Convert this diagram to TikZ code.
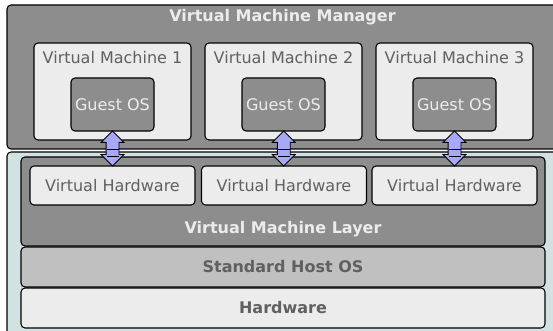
\documentclass[tikz,border=0pt]{standalone}
\usepackage{fontspec}
\setmainfont{DejaVu Sans}
\usetikzlibrary{positioning,calc,shapes.arrows}
\definecolor{mgrgray}{RGB}{141,141,141}
\definecolor{paper}{RGB}{236,236,236}
\definecolor{hostgray}{RGB}{192,192,192}
\definecolor{tealbg}{RGB}{210,225,225}
\definecolor{txtgray}{RGB}{96,96,96}
\definecolor{arrowblue}{RGB}{168,168,248}
\def\pxu{0.75pt}

\begin{document}
\begin{tikzpicture}[x=0.75pt,y=-0.75pt,
    every node/.style={font=\fontsize{12}{14}\selectfont},
    box/.style={draw,rounded corners=3pt,inner sep=0pt,line width=0.8pt},
    darkbox/.style={box,fill=mgrgray},
    lightbox/.style={box,fill=paper},
    layerbox/.style={box,minimum width=524*\pxu,minimum height=40*\pxu},
    vmbox/.style={lightbox,minimum width=157*\pxu,minimum height=97*\pxu},
    guestbox/.style={darkbox,minimum width=83*\pxu,minimum height=53*\pxu,text=paper},
    vhbox/.style={lightbox,minimum width=165*\pxu,minimum height=39*\pxu,text=txtgray},
    boldlight/.style={font=\fontsize{12}{14}\selectfont\bfseries,text=paper},
    bolddark/.style={font=\fontsize{12}{14}\selectfont\bfseries,text=txtgray},
    link/.style={double arrow,draw,fill=arrowblue,line width=0.6pt,rotate=90,inner sep=4.5pt,
      minimum width=16.5pt,minimum height=26.25pt,double arrow head extend=3.75pt,
      double arrow tip angle=90}]
    \useasboundingbox (0,0) rectangle (553,331);
    \clip (0,0) rectangle (553,331);
    % upper part: the manager and its machines
    \node[darkbox,minimum width=551*\pxu,minimum height=144*\pxu] (mgr) at (282.5,77) {};
    \node[boldlight] (mgrlabel) at ($(mgr.north)+(0,13)$) {Virtual Machine Manager};
    % lower part: the layers
    \node[box,fill=tealbg,minimum width=551*\pxu,minimum height=193*\pxu] (host) at (282.5,248.5) {};
    \node[darkbox,minimum width=524*\pxu,minimum height=89*\pxu] (vml) at (283,201.5) {};
    \node[boldlight] (vmllabel) at (283,229) {Virtual Machine Layer};
    \node[layerbox,fill=hostgray,bolddark] (hostos) at (283,267) {Standard Host OS};
    \node[layerbox,fill=paper,bolddark] (hw) at (283,308) {Hardware};
    \foreach \i/\x/\hx in {1/112.5/112.5,2/283.5/284,3/454.5/454.5}{
      \node[vmbox] (vm\i) at (\x,91.5) {};
      \node[text=txtgray] (vmlabel\i) at ($(vm\i.north)+(0,15)$) {Virtual Machine \i};
      \node[guestbox] (g\i) at (\x,104.5) {Guest OS};
      \node[vhbox] (vh\i) at (\hx,185.5) {Virtual Hardware};
      \node[link] (a\i) at ($(g\i.south)!0.5!(vh\i.north)$) {};
      \draw[line width=0.8pt] (a\i.center |- mgr.south) ++(-6,0) -- ++(12,0);
      \draw[line width=0.8pt] (a\i.center |- vml.north) ++(-6,0) -- ++(12,0);
    }
  \end{tikzpicture}
\end{document}
